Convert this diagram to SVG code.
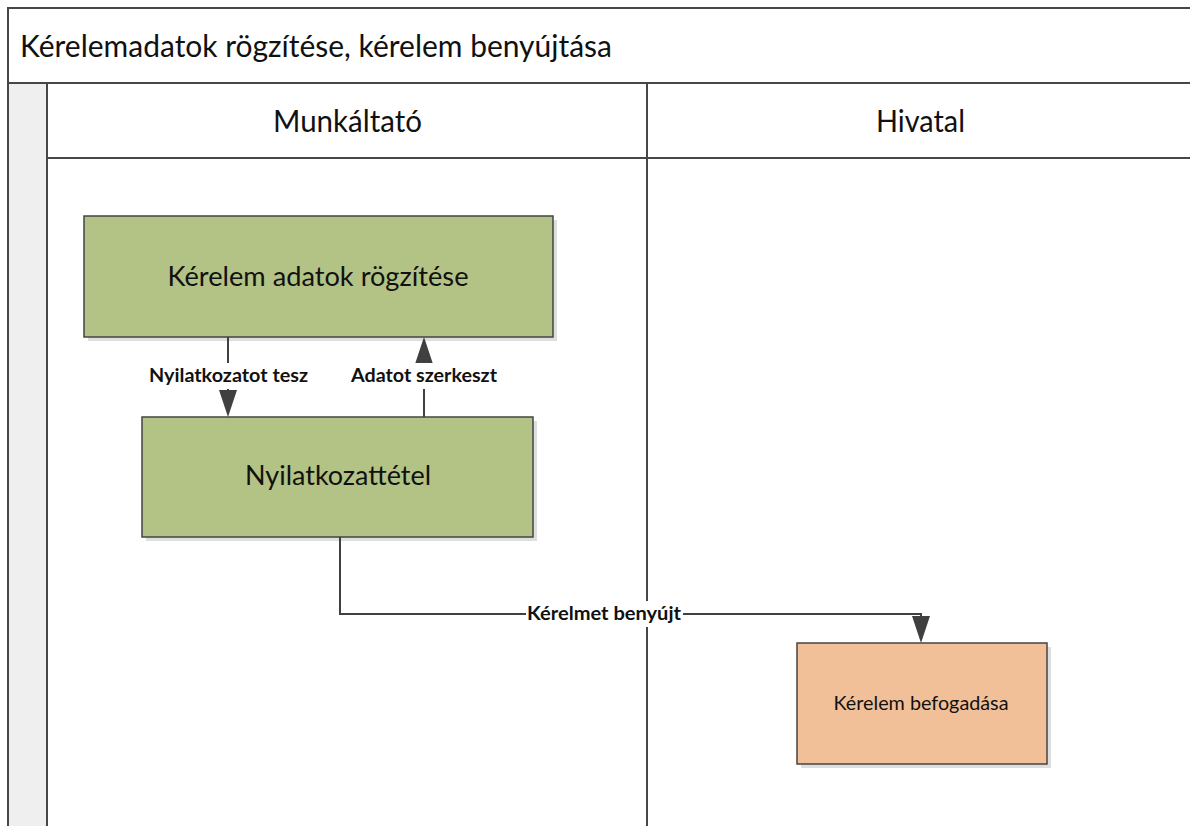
<svg xmlns="http://www.w3.org/2000/svg" width="1190" height="826" viewBox="0 0 1190 826">
  <style>
    .frame { stroke: #474747; stroke-width: 2; fill: none; }
    .strip { fill: #efefef; }
    .title { font-family: Lato, "Open Sans", "Liberation Sans", sans-serif; font-size: 30px; fill: #111; }
    .lane { font-family: Lato, "Open Sans", "Liberation Sans", sans-serif; font-size: 30px; fill: #111; text-anchor: middle; }
    .shadow { fill: #dedede; }
    .task { stroke: #444; stroke-width: 1.5; }
    .green { fill: #b3c385; }
    .peach { fill: #f2c098; }
    .big { font-family: Lato, "Open Sans", "Liberation Sans", sans-serif; font-size: 26px; fill: #111; text-anchor: middle; }
    .small { font-family: Lato, "Open Sans", "Liberation Sans", sans-serif; font-size: 20px; fill: #111; text-anchor: middle; }
    .edge { stroke: #404040; stroke-width: 2; fill: none; }
    .lbl-bg { fill: #ffffff; }
    .lbl { font-family: Lato, "Open Sans", "Liberation Sans", sans-serif; font-weight: bold; font-size: 19px; fill: #111; text-anchor: middle; }
  </style>
  <defs>
    <marker id="head" viewBox="0 0 27 18" refX="0" refY="9" markerWidth="27" markerHeight="18" markerUnits="userSpaceOnUse" orient="auto">
      <path d="M0,0 L27,9 L0,18 z" fill="#404040"/>
    </marker>
  </defs>

  <rect width="1190" height="826" fill="#ffffff"/>

  <!-- pool with title band and two lanes -->
  <g id="pool">
    <rect class="strip" x="8" y="83" width="39" height="743"/>
    <path class="frame" d="M8 826 V8 H1190 M8 83 H1190 M47 158 H1190 M47 83 V826 M647 83 V826"/>
    <text class="title" x="20" y="57" textLength="592" lengthAdjust="spacingAndGlyphs">Kérelemadatok rögzítése, kérelem benyújtása</text>
    <text class="lane" x="347.5" y="132" textLength="149" lengthAdjust="spacingAndGlyphs">Munkáltató</text>
    <text class="lane" x="920.5" y="132" textLength="89" lengthAdjust="spacingAndGlyphs">Hivatal</text>
  </g>

  <!-- tasks -->
  <g id="node-rogzites">
    <rect class="shadow" x="88" y="220" width="469" height="121"/>
    <rect class="task green" x="84" y="216" width="469" height="121"/>
    <text class="big" x="318" y="286" textLength="301" lengthAdjust="spacingAndGlyphs">Kérelem adatok rögzítése</text>
  </g>
  <g id="node-nyilatkozat">
    <rect class="shadow" x="146" y="421" width="391" height="120"/>
    <rect class="task green" x="142" y="417" width="391" height="120"/>
    <text class="big" x="338" y="485" textLength="186" lengthAdjust="spacingAndGlyphs">Nyilatkozattétel</text>
  </g>
  <g id="node-befogadas">
    <rect class="shadow" x="801" y="647" width="250" height="121"/>
    <rect class="task peach" x="797" y="643" width="250" height="121"/>
    <text class="small" x="921" y="710" textLength="175" lengthAdjust="spacingAndGlyphs">Kérelem befogadása</text>
  </g>

  <!-- connectors -->
  <g id="connectors">
    <path class="edge" d="M228 337 V390" marker-end="url(#head)"/>
    <rect class="lbl-bg" x="146" y="363" width="165" height="26"/>
    <text class="lbl" x="228.5" y="382" textLength="159" lengthAdjust="spacingAndGlyphs">Nyilatkozatot tesz</text>

    <path class="edge" d="M424 417 V364" marker-end="url(#head)"/>
    <rect class="lbl-bg" x="348" y="363" width="152" height="26"/>
    <text class="lbl" x="424" y="382" textLength="146" lengthAdjust="spacingAndGlyphs">Adatot szerkeszt</text>

    <path class="edge" d="M340 537 V614 H921 V616" marker-end="url(#head)"/>
    <rect class="lbl-bg" x="526" y="601" width="157" height="26"/>
    <text class="lbl" x="604" y="620" textLength="154" lengthAdjust="spacingAndGlyphs">Kérelmet benyújt</text>
  </g>
</svg>
